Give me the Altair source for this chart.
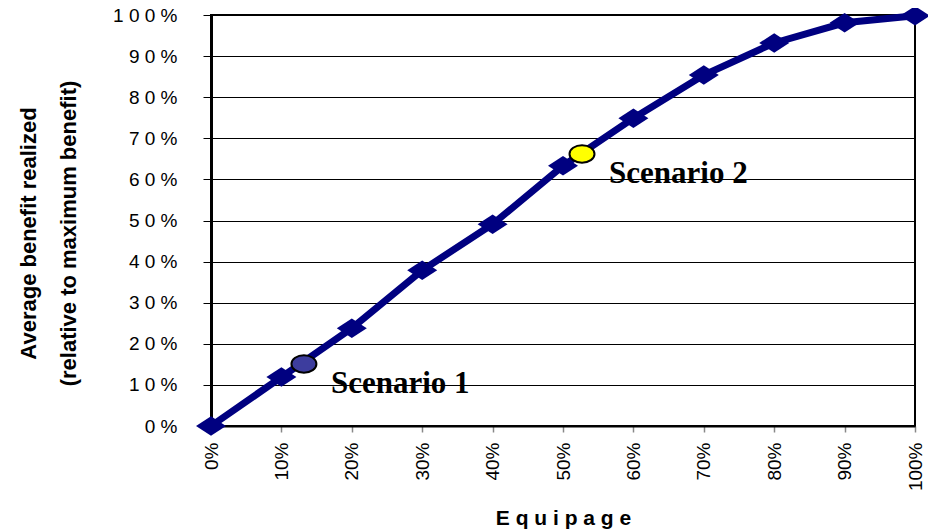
import altair as alt
import pandas as pd

# ---- data ----
equipage = [0.0, 0.1, 0.2, 0.3, 0.4, 0.5, 0.6, 0.7, 0.8, 0.9, 1.0]
benefit = [0.0, 0.119, 0.238, 0.379, 0.491, 0.633, 0.749, 0.854, 0.932, 0.981, 0.998]

scenario_names = ["Scenario 1", "Scenario 2"]
scenario_x = [0.132, 0.527]
scenario_y = [0.151, 0.662]
scenario_colors = ["#3D3D9E", "#FFFF00"]

x_tick_values = [0.0, 0.1, 0.2, 0.3, 0.4, 0.5, 0.6, 0.7, 0.8, 0.9, 1.0]
x_tick_labels = ["0%", "10%", "20%", "30%", "40%", "50%", "60%", "70%", "80%", "90%", "100%"]
y_tick_values = [0.0, 0.1, 0.2, 0.3, 0.4, 0.5, 0.6, 0.7, 0.8, 0.9, 1.0]
y_tick_labels = ["0 %", "1 0 %", "2 0 %", "3 0 %", "4 0 %", "5 0 %", "6 0 %", "7 0 %", "8 0 %", "9 0 %", "1 0 0 %"]

x_title = "E q u i p a g e"
y_title = ["Average benefit realized", "(relative to maximum benefit)"]

curve = pd.DataFrame({"equipage": equipage, "benefit": benefit})
scen = pd.DataFrame({"name": scenario_names, "x": scenario_x, "y": scenario_y, "color": scenario_colors})

def js_list(lst):
    return "[" + ",".join("'" + s + "'" for s in lst) + "]"

NAVY = "#000080"
DIAMOND = "M-1,0L0,-0.65L1,0L0,0.65Z"
ELLIPSE = "M-1,0A1,0.7,0,1,1,1,0A1,0.7,0,1,1,-1,0Z"
SANS = "Liberation Sans"

x_scale = alt.Scale(domain=[0, 1], nice=False, zero=False)
y_scale = alt.Scale(domain=[0, 1], nice=False)

x_axis = alt.Axis(
    values=x_tick_values,
    labelExpr=js_list(x_tick_labels) + "[round(datum.value*10)]",
    labelAngle=-90,
    labelFont=SANS, labelFontSize=19, labelColor="black", labelPadding=10,
    tickSize=6, tickColor="#888888", tickWidth=1.5,
    domainColor="black", domainWidth=2,
    grid=False,
    title=x_title, titleFont=SANS, titleFontSize=21, titleFontWeight="bold",
    titleColor="black", titleY=92, titleBaseline="middle",
)
y_axis = alt.Axis(
    values=y_tick_values,
    labelExpr=js_list(y_tick_labels) + "[round(datum.value*10)]",
    labelFont=SANS, labelFontSize=19, labelColor="black", labelPadding=26,
    tickSize=8, tickColor="black", tickWidth=1,
    domainColor="black", domainWidth=3,
    grid=True, gridColor="black", gridWidth=1,
    title=y_title, titleFont=SANS, titleFontSize=22, titleFontWeight="bold",
    titleColor="black", titleX=-183, titleY=218, titleAngle=-90,
    titleAlign="center", titleBaseline="middle", titleLineHeight=40,
)

def X(field):
    return alt.X(field, type="quantitative", scale=x_scale, axis=x_axis)

def Y(field):
    return alt.Y(field, type="quantitative", scale=y_scale, axis=y_axis)

line = alt.Chart(curve).mark_line(color=NAVY, strokeWidth=7).encode(
    x=X("equipage"), y=Y("benefit"),
)
diamonds = alt.Chart(curve).mark_point(
    shape=DIAMOND, filled=True, size=900, color=NAVY, opacity=1
).encode(x=X("equipage"), y=Y("benefit"))
circles = alt.Chart(scen).mark_point(
    shape=ELLIPSE, filled=True, size=625, stroke="black", strokeWidth=2, opacity=1
).encode(
    x=X("x"), y=Y("y"),
    fill=alt.Fill("color:N", scale=None, legend=None),
)
labels = alt.Chart(scen).mark_text(
    align="left", baseline="alphabetic", dx=27, dy=29,
    font="Liberation Serif", fontSize=31, fontWeight="bold", color="black"
).encode(x=X("x"), y=Y("y"), text="name:N")

chart = alt.layer(line, diamonds, circles, labels).properties(
    width=704, height=411,
    padding={"left": 203, "top": 7, "right": 13, "bottom": 106},
    autosize="none",
).configure(background="white").configure_view(stroke="black", strokeWidth=2)

chart.save("out.html", embed_options={"renderer": "svg", "actions": False})
